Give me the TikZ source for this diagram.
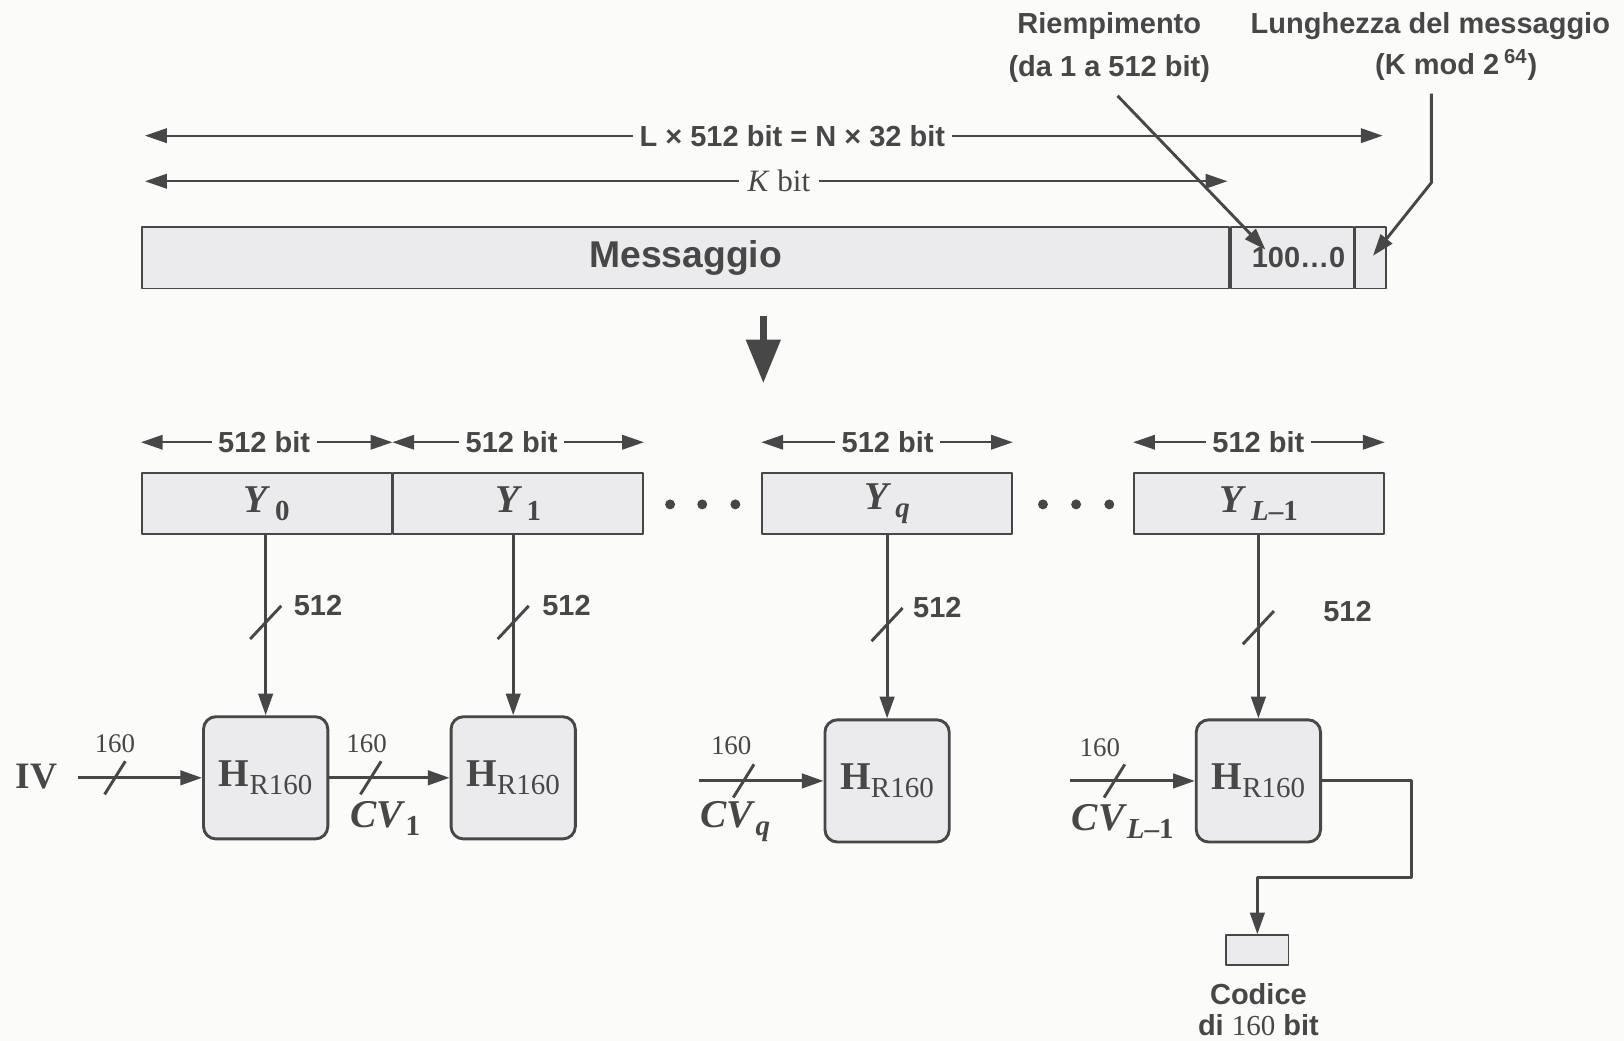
\documentclass[tikz,border=0pt]{standalone}
\usepackage{fontspec}
\setmainfont{Liberation Serif}
\setsansfont{Liberation Sans}
\usetikzlibrary{arrows.meta,positioning}
\definecolor{ink}{HTML}{474747}
\definecolor{boxpale}{HTML}{EBEBED}
\definecolor{paper}{HTML}{FBFBF9}
\newcommand\lowsub[2]{#1\raisebox{-0.45ex}{\fontsize{14}{14}\selectfont #2}}

\begin{document}
\begin{tikzpicture}[x=0.5pt,y=-0.5pt,line join=round,
  >={Triangle[length=10.5pt,width=7pt]},
  wire/.style={draw=ink,line width=1.4pt},
  dim/.style={draw=ink,line width=0.9pt},
  lbl/.style={font=\sffamily\bfseries\fontsize{14}{21}\selectfont,text=ink,inner sep=3pt},
  num/.style={font=\fontsize{13}{15}\selectfont,text=ink,inner sep=0pt},
  ylab/.style={font=\bfseries\fontsize{19}{20}\selectfont,text=ink},
  blk/.style={draw=ink,line width=0.9pt,fill=boxpale,minimum width=120.5pt,minimum height=29.5pt,inner sep=0pt,text=ink},
  hbox/.style={draw=ink,line width=1.4pt,fill=boxpale,rounded corners=6pt,minimum width=60pt,minimum height=59pt,inner sep=0pt,text=ink,font=\fontsize{19}{20}\selectfont}]

  \fill[paper] (0,0) rectangle (1568,1005);
  \useasboundingbox (0,0) rectangle (1568,1005);

  % message with padding and length
  \node[lbl] (riemp) at (1071,46) [align=center] {Riempimento\\(da 1 a 512 bit)};
  \node[lbl] (lung) at (1381,25) {Lunghezza del messaggio};
  \node[lbl] (lungb) at (1406,63) {(K mod 2\,\textsuperscript{64})};

  \node[lbl] (Ltxt) at (765,131) {L × 512 bit = N × 32 bit};
  \coordinate (Lleft) at (140,131); \coordinate (Lright) at (1335,131);
  \draw[dim,->] (Ltxt.west) -- (Lleft);
  \draw[dim,->] (Ltxt.east) -- (Lright);

  \node[text=ink,font=\fontsize{15}{16}\selectfont,inner sep=4pt] (Ktxt) at (752,175) {\textit{K} bit};
  \coordinate (Kleft) at (140,175); \coordinate (Kright) at (1185,175);
  \draw[dim,->] (Ktxt.west) -- (Kleft);
  \draw[dim,->] (Ktxt.east) -- (Kright);

  \node[blk,minimum width=525pt,font=\sffamily\bfseries\fontsize{18}{18}\selectfont] (msg) at (662,249) {Messaggio};
  \node[blk,minimum width=59pt,right=0pt of msg,font=\sffamily\bfseries\fontsize{14}{15}\selectfont] (pad) {\kern6pt100…0};
  \node[blk,minimum width=15pt,right=0pt of pad] (lenf) {};

  \draw[wire,->] ([xshift=4pt,yshift=-3pt]riemp.south) -- ([xshift=-13pt,yshift=4pt]pad.center);
  \draw[wire,->] ([xshift=-12pt,yshift=-3pt]lungb.south) -- ++(0,86) -- ([xshift=1pt,yshift=1pt]lenf.center);

  \coordinate (bigtop) at (737,305); \coordinate (bigtip) at (737,370);
  \draw[draw=ink,line width=3.4pt,-{Triangle[length=21pt,width=16pt]}] (bigtop) -- (bigtip);

  % blocks of 512 bit
  \node[blk,ylab] (Y0) at (257.5,486.5) {\lowsub{\textit{Y}\kern2pt}{0}};
  \node[blk,ylab,right=0pt of Y0] (Y1) {\lowsub{\textit{Y}\kern2pt}{1}};
  \node[blk,ylab] (Yq) at (856.5,486.5) {\lowsub{\textit{Y}\kern2pt}{\textit{q}}};
  \node[blk,ylab] (YL) at (1215.5,486.5) {\lowsub{\textit{Y}\kern2pt}{\textit{L}–1}};
  \foreach \x in {647,678,710,1007,1039,1071} \fill[ink] (\x,487) circle (2.4pt);

  \node[lbl] (d0) at (255,427) {512 bit};
  \node[lbl] (d1) at (494,427) {512 bit};
  \node[lbl] (d2) at (857,427) {512 bit};
  \node[lbl] (d3) at (1215,427) {512 bit};
  \draw[dim,->] (d0.west) -- (d0.west -| Y0.west);
  \draw[dim,->] (d0.east) -- (d0.east -| Y0.east);
  \draw[dim,->] (d1.west) -- (d1.west -| Y1.west);
  \draw[dim,->] (d1.east) -- (d1.east -| Y1.east);
  \draw[dim,->] (d2.west) -- (d2.west -| Yq.west);
  \draw[dim,->] (d2.east) -- (d2.east -| Yq.east);
  \draw[dim,->] (d3.west) -- (d3.west -| YL.west);
  \draw[dim,->] (d3.east) -- (d3.east -| YL.east);

  % compression stages
  \node[hbox] (H1) at (256.5,751) {\lowsub{\textbf{H}}{R160}};
  \node[hbox] (H2) at (495.5,751) {\lowsub{\textbf{H}}{R160}};
  \node[hbox] (H3) at (856.5,754) {\lowsub{\textbf{H}}{R160}};
  \node[hbox] (H4) at (1215,754) {\lowsub{\textbf{H}}{R160}};

  \draw[wire,->] (Y0.south -| H1.north) -- (H1.north);
  \draw[wire,->] (Y1.south -| H2.north) -- (H2.north);
  \draw[wire,->] (Yq.south -| H3.north) -- (H3.north);
  \draw[wire,->] (YL.south -| H4.north) -- (H4.north);
  \draw[wire] (H1.north |- 0,601) +(-7.5pt,-8pt) -- +(7.5pt,8pt);
  \draw[wire] (H2.north |- 0,601) +(-7.5pt,-8pt) -- +(7.5pt,8pt);
  \draw[wire] (H3.north |- 0,603) +(-7.5pt,-8pt) -- +(7.5pt,8pt);
  \draw[wire] (H4.north |- 0,606) +(-7.5pt,-8pt) -- +(7.5pt,8pt);
  \node[lbl] (n0) at (307,585) {512};
  \node[lbl] (n1) at (547,585) {512};
  \node[lbl] (n2) at (905,587) {512};
  \node[lbl] (n3) at (1301,590) {512};

  \node[text=ink,font=\bfseries\fontsize{18}{20}\selectfont] (iv) at (35,750) {IV};
  \coordinate (ivout) at (75,751);
  \draw[wire,->] (ivout) -- (H1.west);
  \draw[wire,->] (H1.east) -- (H2.west);
  \coordinate (in3) at (675,754); \coordinate (in4) at (1033,754);
  \draw[wire,->] (in3) -- (H3.west);
  \draw[wire,->] (in4) -- (H4.west);
  \draw[wire] (111,751) +(-5pt,-8pt) -- +(5pt,8pt);
  \draw[wire] (358,751) +(-5pt,-8pt) -- +(5pt,8pt);
  \draw[wire] (718,754) +(-5pt,-8pt) -- +(5pt,8pt);
  \draw[wire] (1076,754) +(-5pt,-8pt) -- +(5pt,8pt);
  \node[num] (c0) at (111,718) {160};
  \node[num] (c1) at (354,718) {160};
  \node[num] (c2) at (706,720) {160};
  \node[num] (c3) at (1062,722) {160};
  \node[text=ink,font=\bfseries\fontsize{19}{20}\selectfont] (cv1) at (372,790) {\lowsub{\textit{CV}}{1}};
  \node[text=ink,font=\bfseries\fontsize{19}{20}\selectfont] (cvq) at (710,793) {\lowsub{\textit{CV}}{\textit{q}}};
  \node[text=ink,font=\bfseries\fontsize{19}{20}\selectfont] (cvL) at (1084,793) {\lowsub{\textit{CV}}{\textit{L}–1}};

  % final output
  \node[blk,minimum width=30pt,minimum height=14.5pt] (code) at (1214,917.5) {};
  \coordinate (turn) at (1363,847);
  \draw[wire,->] (H4.east) -| (turn) -| (code.north);
  \node[lbl,align=center,font=\sffamily\bfseries\fontsize{14}{15}\selectfont] (codtxt) at (1215,975) {Codice\\di {\rmfamily\mdseries 160} bit};
\end{tikzpicture}
\end{document}
